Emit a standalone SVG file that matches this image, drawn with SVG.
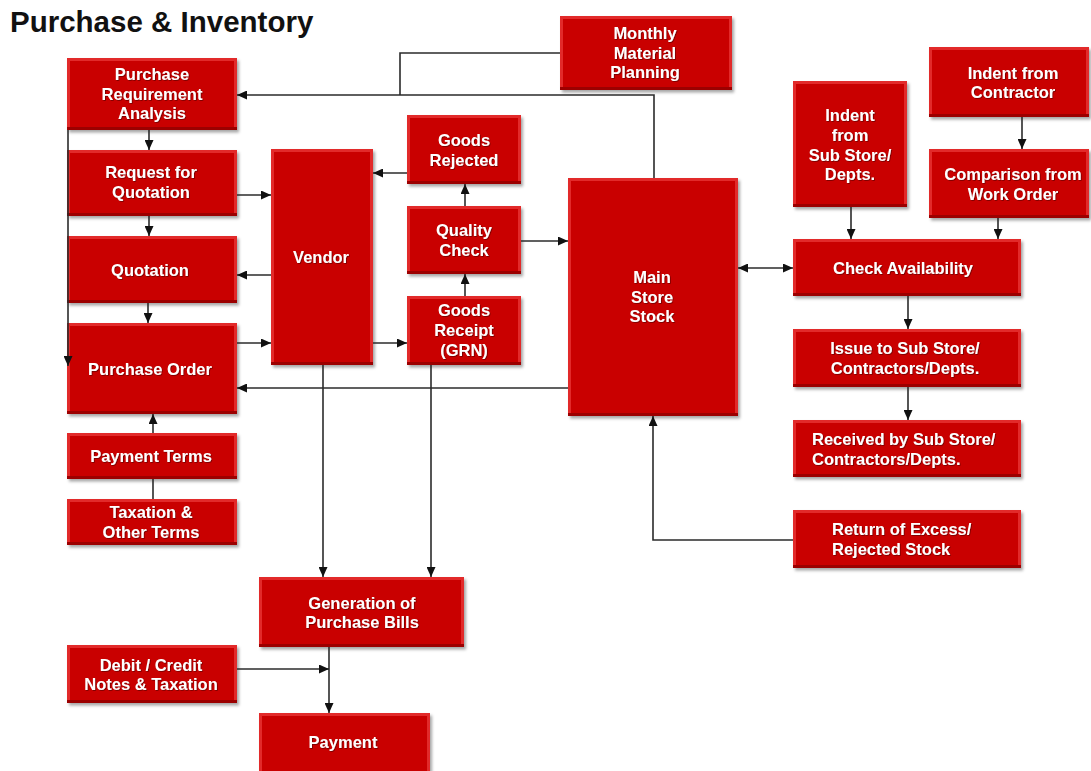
<svg xmlns="http://www.w3.org/2000/svg" width="1091" height="771" viewBox="0 0 1091 771">
  <defs>
    <marker id="arr" markerUnits="userSpaceOnUse" markerWidth="10" markerHeight="9" refX="10" refY="4.5" orient="auto-start-reverse">
      <path d="M0,0 L10,4.5 L0,9 z" fill="#111"/>
    </marker>
    <filter id="shadow" x="-10%" y="-10%" width="130%" height="130%">
      <feDropShadow dx="2" dy="2.5" stdDeviation="1.5" flood-color="#000" flood-opacity="0.35"/>
    </filter>
    <filter id="tshadow" x="-5%" y="-20%" width="110%" height="150%">
      <feDropShadow dx="0.8" dy="0.8" stdDeviation="0.5" flood-color="#300" flood-opacity="0.6"/>
    </filter>
  </defs>
  <style>
    .dk { fill: #9c0000; filter: url(#shadow); }
    .lt { fill: #e22a2a; }
    .fc { fill: #c90000; }
    .t { font-family: "Liberation Sans", Arial, sans-serif; font-weight: bold; font-size: 16.5px; fill: #ffffff; text-anchor: middle; filter: url(#tshadow); }
    .ts { text-anchor: start; }
    .ln { fill: none; stroke: #2b2b2b; stroke-width: 1.6; }
    .ar { marker-end: url(#arr); }
    .title { font-family: "Liberation Sans", Arial, sans-serif; font-weight: bold; font-size: 29.5px; fill: #111; }
  </style>

  <rect width="1091" height="771" fill="#ffffff"/>
  <text class="title" x="10" y="32">Purchase &amp; Inventory</text>

  <g id="nodes">
    <g id="purchase-requirement">
      <rect class="dk" x="67" y="58" width="170" height="72"/>
      <rect class="lt" x="67" y="58" width="170" height="69"/>
      <rect class="fc" x="70" y="61" width="164" height="66"/>
      <text class="t" x="152" y="80">Purchase</text>
      <text class="t" x="152" y="100">Requirement</text>
      <text class="t" x="152" y="119">Analysis</text>
    </g>
    <g id="rfq">
      <rect class="dk" x="67" y="150" width="170" height="66"/>
      <rect class="lt" x="67" y="150" width="170" height="63"/>
      <rect class="fc" x="70" y="153" width="164" height="60"/>
      <text class="t" x="151" y="178">Request for</text>
      <text class="t" x="151" y="198">Quotation</text>
    </g>
    <g id="quotation">
      <rect class="dk" x="67" y="236" width="170" height="67"/>
      <rect class="lt" x="67" y="236" width="170" height="64"/>
      <rect class="fc" x="70" y="239" width="164" height="61"/>
      <text class="t" x="150" y="276">Quotation</text>
    </g>
    <g id="purchase-order">
      <rect class="dk" x="67" y="323" width="170" height="91"/>
      <rect class="lt" x="67" y="323" width="170" height="88"/>
      <rect class="fc" x="70" y="326" width="164" height="85"/>
      <text class="t" x="150" y="375">Purchase Order</text>
    </g>
    <g id="payment-terms">
      <rect class="dk" x="67" y="433" width="170" height="46"/>
      <rect class="lt" x="67" y="433" width="170" height="43"/>
      <rect class="fc" x="70" y="436" width="164" height="40"/>
      <text class="t" x="151" y="462">Payment Terms</text>
    </g>
    <g id="taxation">
      <rect class="dk" x="67" y="499" width="170" height="46"/>
      <rect class="lt" x="67" y="499" width="170" height="43"/>
      <rect class="fc" x="70" y="502" width="164" height="40"/>
      <text class="t" x="151" y="518">Taxation &amp;</text>
      <text class="t" x="151" y="538">Other Terms</text>
    </g>
    <g id="vendor">
      <rect class="dk" x="271" y="149" width="102" height="216"/>
      <rect class="lt" x="271" y="149" width="102" height="213"/>
      <rect class="fc" x="274" y="152" width="96" height="210"/>
      <text class="t" x="321" y="263">Vendor</text>
    </g>
    <g id="goods-rejected">
      <rect class="dk" x="407" y="115" width="114" height="69"/>
      <rect class="lt" x="407" y="115" width="114" height="66"/>
      <rect class="fc" x="410" y="118" width="108" height="63"/>
      <text class="t" x="464" y="146">Goods</text>
      <text class="t" x="464" y="166">Rejected</text>
    </g>
    <g id="quality-check">
      <rect class="dk" x="407" y="206" width="114" height="68"/>
      <rect class="lt" x="407" y="206" width="114" height="65"/>
      <rect class="fc" x="410" y="209" width="108" height="62"/>
      <text class="t" x="464" y="236">Quality</text>
      <text class="t" x="464" y="256">Check</text>
    </g>
    <g id="goods-receipt">
      <rect class="dk" x="407" y="296" width="114" height="69"/>
      <rect class="lt" x="407" y="296" width="114" height="66"/>
      <rect class="fc" x="410" y="299" width="108" height="63"/>
      <text class="t" x="464" y="316">Goods</text>
      <text class="t" x="464" y="336">Receipt</text>
      <text class="t" x="464" y="356">(GRN)</text>
    </g>
    <g id="monthly-planning">
      <rect class="dk" x="560" y="16" width="172" height="74"/>
      <rect class="lt" x="560" y="16" width="172" height="71"/>
      <rect class="fc" x="563" y="19" width="166" height="68"/>
      <text class="t" x="645" y="39">Monthly</text>
      <text class="t" x="645" y="59">Material</text>
      <text class="t" x="645" y="78">Planning</text>
    </g>
    <g id="main-store">
      <rect class="dk" x="568" y="178" width="170" height="238"/>
      <rect class="lt" x="568" y="178" width="170" height="235"/>
      <rect class="fc" x="571" y="181" width="164" height="232"/>
      <text class="t" x="652" y="283">Main</text>
      <text class="t" x="652" y="303">Store</text>
      <text class="t" x="652" y="322">Stock</text>
    </g>
    <g id="indent-substore">
      <rect class="dk" x="793" y="81" width="114" height="126"/>
      <rect class="lt" x="793" y="81" width="114" height="123"/>
      <rect class="fc" x="796" y="84" width="108" height="120"/>
      <text class="t" x="850" y="121">Indent</text>
      <text class="t" x="850" y="141">from</text>
      <text class="t" x="850" y="161">Sub Store/</text>
      <text class="t" x="850" y="180">Depts.</text>
    </g>
    <g id="indent-contractor">
      <rect class="dk" x="929" y="47" width="160" height="70"/>
      <rect class="lt" x="929" y="47" width="160" height="67"/>
      <rect class="fc" x="932" y="50" width="154" height="64"/>
      <text class="t" x="1013" y="79">Indent from</text>
      <text class="t" x="1013" y="98">Contractor</text>
    </g>
    <g id="comparison">
      <rect class="dk" x="929" y="149" width="160" height="69"/>
      <rect class="lt" x="929" y="149" width="160" height="66"/>
      <rect class="fc" x="932" y="152" width="154" height="63"/>
      <text class="t" x="1013" y="180">Comparison from</text>
      <text class="t" x="1013" y="200">Work Order</text>
    </g>
    <g id="check-availability">
      <rect class="dk" x="793" y="239" width="228" height="57"/>
      <rect class="lt" x="793" y="239" width="228" height="54"/>
      <rect class="fc" x="796" y="242" width="222" height="51"/>
      <text class="t" x="903" y="274">Check Availability</text>
    </g>
    <g id="issue">
      <rect class="dk" x="793" y="329" width="228" height="58"/>
      <rect class="lt" x="793" y="329" width="228" height="55"/>
      <rect class="fc" x="796" y="332" width="222" height="52"/>
      <text class="t" x="905" y="354">Issue to Sub Store/</text>
      <text class="t" x="905" y="374">Contractors/Depts.</text>
    </g>
    <g id="received">
      <rect class="dk" x="793" y="420" width="228" height="57"/>
      <rect class="lt" x="793" y="420" width="228" height="54"/>
      <rect class="fc" x="796" y="423" width="222" height="51"/>
      <text class="t ts" x="812" y="445">Received by Sub Store/</text>
      <text class="t ts" x="812" y="465">Contractors/Depts.</text>
    </g>
    <g id="return-stock">
      <rect class="dk" x="793" y="510" width="228" height="58"/>
      <rect class="lt" x="793" y="510" width="228" height="55"/>
      <rect class="fc" x="796" y="513" width="222" height="52"/>
      <text class="t ts" x="832" y="535">Return of Excess/</text>
      <text class="t ts" x="832" y="555">Rejected Stock</text>
    </g>
    <g id="purchase-bills">
      <rect class="dk" x="259" y="577" width="205" height="70"/>
      <rect class="lt" x="259" y="577" width="205" height="67"/>
      <rect class="fc" x="262" y="580" width="199" height="64"/>
      <text class="t" x="362" y="609">Generation of</text>
      <text class="t" x="362" y="628">Purchase Bills</text>
    </g>
    <g id="debit-credit">
      <rect class="dk" x="67" y="645" width="170" height="58"/>
      <rect class="lt" x="67" y="645" width="170" height="55"/>
      <rect class="fc" x="70" y="648" width="164" height="52"/>
      <text class="t" x="151" y="671">Debit / Credit</text>
      <text class="t" x="151" y="690">Notes &amp; Taxation</text>
    </g>
    <g id="payment">
      <rect class="dk" x="259" y="713" width="171" height="64"/>
      <rect class="lt" x="259" y="713" width="171" height="61"/>
      <rect class="fc" x="262" y="716" width="165" height="58"/>
      <text class="t" x="343" y="748">Payment</text>
    </g>
  </g>

  <g id="connectors">
    <path class="ln ar" d="M654,178 V95 H237"/>
    <path class="ln" d="M560,53 H400 V95"/>
    <path class="ln ar" d="M149,130 V150"/>
    <path class="ln ar" d="M68,130 V366"/>
    <path class="ln ar" d="M149,216 V236"/>
    <path class="ln ar" d="M148,303 V323"/>
    <path class="ln ar" d="M237,195 H271"/>
    <path class="ln ar" d="M271,275 H237"/>
    <path class="ln ar" d="M237,343 H271"/>
    <path class="ln ar" d="M373,343 H407"/>
    <path class="ln ar" d="M407,173 H373"/>
    <path class="ln ar" d="M465,206 V184"/>
    <path class="ln ar" d="M465,296 V274"/>
    <path class="ln ar" d="M521,241 H568"/>
    <path class="ln ar" d="M568,388 H237"/>
    <path class="ln ar" d="M323,365 V577"/>
    <path class="ln ar" d="M431,365 V577"/>
    <path class="ln ar" d="M329,647 V713"/>
    <path class="ln ar" d="M237,669 H329"/>
    <path class="ln ar" d="M793,540 H653 V416"/>
    <path class="ln ar" d="M738,268 H793" marker-start="url(#arr)"/>
    <path class="ln ar" d="M851,207 V239"/>
    <path class="ln ar" d="M1022,117 V149"/>
    <path class="ln ar" d="M998,218 V239"/>
    <path class="ln ar" d="M908,296 V329"/>
    <path class="ln ar" d="M908,387 V420"/>
    <path class="ln ar" d="M153,433 V414"/>
    <path class="ln" d="M153,479 V499"/>
  </g>
</svg>
